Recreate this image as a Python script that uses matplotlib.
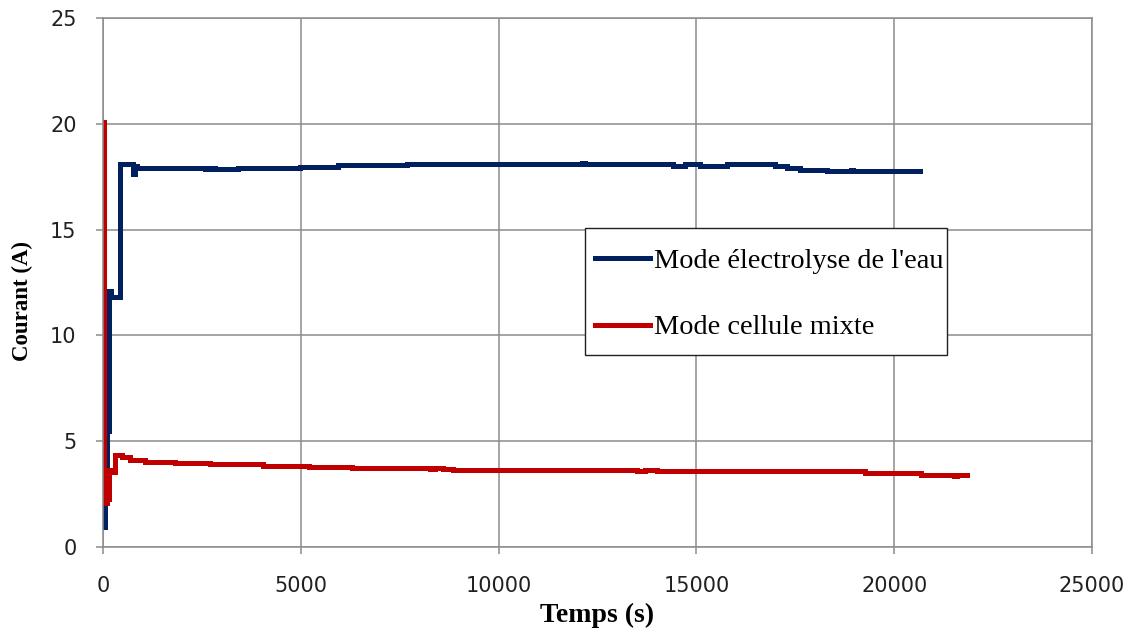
import matplotlib
matplotlib.use("Agg")
import matplotlib.pyplot as plt
from matplotlib.patches import Rectangle

# Mode électrolyse de l'eau : (temps en s, courant en A), en paliers
t_eau = [30, 60, 95, 155, 200, 440, 770, 800, 850, 2580, 2700, 2830, 3260, 3400, 3540,
         4980, 5940, 7680, 12100, 12180, 14400, 14700, 15100, 15770, 16990, 17290,
         17620, 18300, 18900, 18960, 20650]
i_eau = [0.95, 3.2, 5.5, 12.1, 11.8, 18.1, 17.65, 18.0, 17.92, 17.85, 17.92, 17.85, 17.85,
         17.92, 17.92, 17.97, 18.03, 18.09, 18.15, 18.09, 18.02, 18.09, 18.02, 18.09,
         18.0, 17.9, 17.84, 17.76, 17.82, 17.76, 17.76]

# Mode cellule mixte
t_mixte = [0, 25, 90, 160, 240, 300, 470, 680, 1060, 1820, 2700, 4050, 5200, 6300,
           8270, 8400, 8600, 8850, 13500, 13700, 14000, 19260, 20690, 21500, 21600, 21830]
i_mixte = [20.1, 2.1, 2.25, 3.65, 3.55, 4.37, 4.24, 4.13, 4.04, 3.97, 3.91, 3.85, 3.80,
           3.74, 3.68, 3.74, 3.68, 3.66, 3.60, 3.66, 3.58, 3.50, 3.42, 3.36, 3.42, 3.42]

x_ticks = [0, 5000, 10000, 15000, 20000, 25000]
y_ticks = [0, 5, 10, 15, 20, 25]

bleu = "#002060"
rouge = "#C00000"
gris = "#8C8C8C"

fig = plt.figure(figsize=(11.34, 6.29), dpi=100)
ax = fig.add_axes([103 / 1134, 1 - 547 / 629, (1092 - 103) / 1134, (547 - 18) / 629])

ax.plot(t_eau, i_eau, color=bleu, lw=3.6, drawstyle="steps-post",
        solid_joinstyle="miter", label="Mode électrolyse de l'eau")
ax.plot(t_mixte, i_mixte, color=rouge, lw=3.6, drawstyle="steps-post",
        solid_joinstyle="miter", label="Mode cellule mixte")

ax.set_xlim(0, 25000)
ax.set_ylim(0, 25)
ax.set_xticks(x_ticks)
ax.set_yticks(y_ticks)
ax.grid(True, color=gris, lw=1.1)
ax.set_axisbelow(True)
for s in ax.spines.values():
    s.set_color(gris)
    s.set_linewidth(1.1)

ax.tick_params(direction="out", length=5, color=gris, width=1.1,
               labelsize=15, labelcolor="#202020")
ax.tick_params(axis="x", pad=16)
ax.tick_params(axis="y", pad=14)
for lab in ax.get_xticklabels() + ax.get_yticklabels():
    lab.set_fontfamily("DejaVu Sans")

ax.set_xlabel("Temps (s)", fontfamily="Liberation Serif", fontweight="bold",
              fontsize=20, va="center")
ax.xaxis.set_label_coords(0.5, -(615 - 547) / 529)
ax.set_ylabel("Courant (A)", fontfamily="Liberation Serif", fontweight="bold",
              fontsize=16.5, va="center")
ax.yaxis.set_label_coords((22 - 103) / 989, (547 - 301) / 529)

# cadre de la légende, dessiné à part
ax.add_patch(Rectangle(((585 - 103) / 989, (547 - 355) / 529), (947 - 585) / 989,
                       (355 - 228) / 529, transform=ax.transAxes, facecolor="white",
                       edgecolor="#202020", lw=1.0, zorder=4))
leg = ax.legend(loc="center left",
                bbox_to_anchor=((595 - 103) / 989, (547 - 294.5) / 529),
                prop={"family": "Liberation Serif", "size": 20.4}, frameon=False,
                handlelength=1.95, handletextpad=0.15, labelspacing=1.42,
                borderpad=0, borderaxespad=0)
leg.set_zorder(5)

fig.savefig("out.png", dpi=100)
